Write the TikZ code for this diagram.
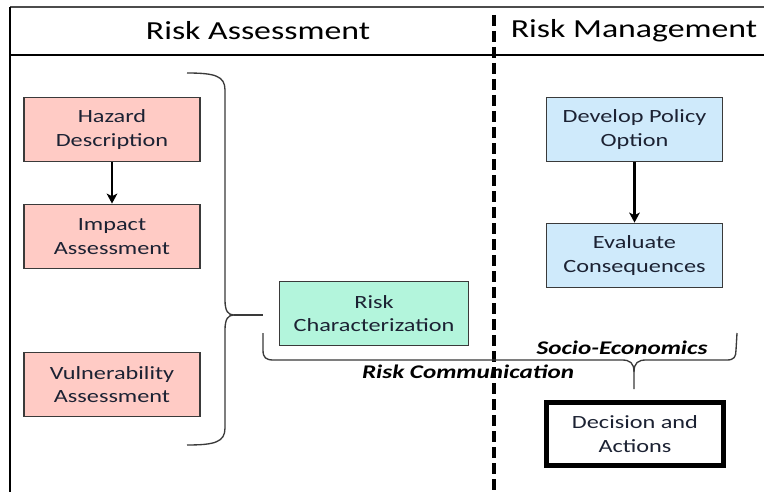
\documentclass[tikz,border=0pt]{standalone}
\usepackage{fontspec}
\setmainfont{Carlito}[FakeStretch=1.3]
\usetikzlibrary{arrows.meta}
\definecolor{ink}{HTML}{1C2233}
\definecolor{pinkfill}{HTML}{FFCBC5}
\definecolor{bluefill}{HTML}{CFEAFB}
\definecolor{greenfill}{HTML}{B3F5DC}
\definecolor{edge}{HTML}{3A3A3A}
\begin{document}
\begin{tikzpicture}[x=0.75pt,y=-0.75pt,
  box/.style={draw=edge, line width=0.9pt, minimum width=132pt, minimum height=48.5pt,
    align=center, font=\fontsize{14}{17.4}\selectfont, text=ink, inner sep=0pt},
  hazbox/.style={box, fill=pinkfill},
  polbox/.style={box, fill=bluefill},
  charbox/.style={box, fill=greenfill, minimum width=142pt},
  decbox/.style={box, draw=black, line width=3.5pt, minimum width=133pt, minimum height=47pt},
  flow/.style={-{Stealth[length=7.5pt,width=8pt,inset=2pt]}, line width=1.7pt, black},
  head/.style={font=\fontsize{19.5}{22}\selectfont, text=black},
  tag/.style={font=\bfseries\itshape\fontsize{14.5}{16}\selectfont, text=black}]
\useasboundingbox (0,0) rectangle (764,492);
\fill[white] (0,0) rectangle (764,492);

% frame and header band
\draw[line width=0.8pt, black!70] (10,7) -- (764,7);
\draw[line width=2.2pt] (10,7) -- (10,492);
\draw[line width=2pt] (10,55) -- (764,55);
\node[head] (hra) at (258,31) {Risk Assessment};
\node[head] (hrm) at (634,31) {Risk Management};

% divider between assessment and management
\draw[line width=2.6pt, dash pattern=on 8pt off 4pt] (494,15) -- (494,492);

% assessment boxes
\node[hazbox] (haz) at (112,129.5) {Hazard\\Description};
\node[hazbox] (imp) at (112,236.5) {Impact\\Assessment};
\node[hazbox] (vul) at (112,384.5) {Vulnerability\\Assessment};
\node[charbox] (chr) at (374,313.5) {Risk\\Characterization};

% management boxes
\node[polbox] (pol) at (634.5,129.5) {Develop Policy\\Option};
\node[polbox] (evl) at (634.5,255.5) {Evaluate\\Consequences};
\node[decbox] (dec) at (635,434) {Decision and\\Actions};

\draw[flow] (haz.south) -- (imp.north);
\draw[flow] (pol.south) -- (evl.north);

% curly brace gathering the assessment steps
\coordinate (bt) at (187,73);
\coordinate (bb) at (187,445);
\coordinate (btip) at (263,315);
\draw[draw=edge, line width=1pt]
  (bt) .. controls (215,73) and (225,76) .. (225,90)
  -- (225,300) .. controls (225,311) and (228,315) .. (234,315)
  .. controls (228,315) and (225,319) .. (225,330)
  -- (225,428) .. controls (225,442) and (215,445) .. (bb);
\draw[draw=edge, line width=1pt] (234,315) -- (btip);

% brace under characterization and socio-economics
\coordinate (cl) at (263,333);
\coordinate (cr) at (737,333);
\coordinate (ctip) at (634,389);
\draw[draw=edge, line width=1pt]
  (cl) -- (263,350) .. controls (263,358) and (266,360) .. (274,360)
  -- (622,360) .. controls (630,360) and (634,363) .. (634,372) -- (ctip);
\draw[draw=edge, line width=1pt]
  (634,372) .. controls (634,363) and (638,360) .. (646,360)
  -- (727,360) .. controls (734,360) and (736,357) .. (736,350) -- (cr);

\node[tag] (soc) at (622,348) {Socio-Economics};
\node[tag] (com) at (468,372) {Risk Communication};
\end{tikzpicture}
\end{document}
